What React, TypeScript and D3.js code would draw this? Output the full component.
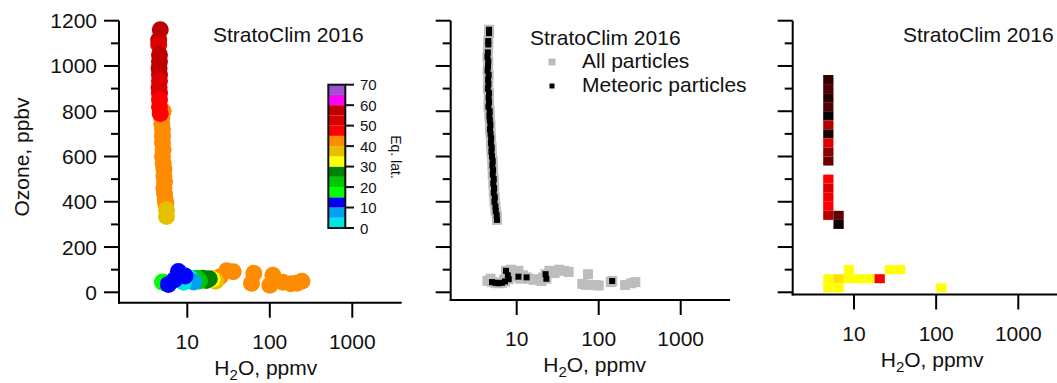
import React from 'react';
import * as d3 from 'd3';

const FONT = '"Liberation Sans", Arial, Helvetica, sans-serif';

// ---------- axis ticks / labels ----------
const ozoneTicks = d3.range(0, 1201, 100);
const ozoneLabelTicks = [0, 200, 400, 600, 800, 1000, 1200];
const h2oTicks = [10, 100, 1000];
const eqLatTicks = [0, 10, 20, 30, 40, 50, 60, 70];
const eqLatBinEdges = [5, 10, 15, 20, 25, 30, 35, 40, 45, 50, 55, 60, 65];
const eqLatColors = [
  '#00e6e6', '#00a2f2', '#0000ff', '#00ff00', '#00c800', '#008000', '#ffff00',
  '#e6c000', '#ff8c00', '#ff0000', '#dc0000', '#be0000', '#ff00ff', '#9b55cc',
];
const titleText = 'StratoClim 2016';
const legendLabels = ['All particles', 'Meteoric particles'];

// ---------- panel 1: [H2O ppmv, O3 ppbv, eq. lat] ----------
const eqLatColumn: [number, number, number][] = [
  [5.1, 800, 42], [4.9, 770, 43], [4.9, 745, 42], [5.0, 720, 41], [5.0, 690, 43],
  [5.0, 660, 42], [5.1, 630, 41], [5.0, 600, 42], [5.1, 570, 43], [5.2, 545, 41],
  [5.2, 515, 42], [5.3, 490, 43], [5.2, 460, 41], [5.3, 435, 42], [5.4, 410, 42],
  [5.5, 390, 41], [5.6, 365, 38], [5.6, 335, 37],
  [4.7, 1160, 57], [4.5, 1115, 57], [4.5, 1095, 52], [4.6, 1050, 57], [4.6, 1020, 57],
  [4.55, 990, 57], [4.6, 960, 56], [4.6, 935, 52], [4.55, 905, 52], [4.6, 880, 51],
  [4.6, 850, 48], [4.6, 820, 47], [4.7, 790, 46],
];
const eqLatLow: [number, number, number][] = [
  [64, 84, 42], [60, 40, 41], [109, 75, 43], [100, 31, 42], [144, 44, 41], [180, 38, 42],
  [213, 40, 43], [245, 49, 42], [25, 69, 41], [30, 95, 42], [36, 91, 43], [22, 60, 42],
  [22, 49, 37], [20, 58, 32],
  [15.5, 62, 27], [18.5, 60, 28], [17, 52, 26],
  [13, 62, 22], [14, 50, 23],
  [5.0, 45, 17], [5.3, 42, 18], [11.5, 52, 17],
  [10.8, 62, 3], [12, 46, 7], [9, 44, 4],
  [5.9, 35, 12], [7.8, 92, 12], [9.4, 72, 13], [7, 55, 11],
];

// ---------- panel 2: [H2O ppmv, O3 ppbv] ----------
const meteoricParticles: [number, number][] = [
  [4.6, 1160], [4.6, 1145], [4.5, 1110], [4.5, 1095],
  [4.45, 1060], [4.4, 1040], [4.5, 1020], [4.47, 1000], [4.42, 980], [4.55, 960],
  [4.48, 940], [4.52, 920], [4.45, 900], [4.6, 880], [4.55, 860], [4.6, 840],
  [4.52, 820], [4.68, 800], [4.65, 780], [4.7, 760], [4.78, 740], [4.72, 720],
  [4.8, 700], [4.88, 680], [4.85, 660], [4.95, 640], [4.92, 620], [5.0, 600],
  [5.1, 580], [5.05, 560], [5.15, 540], [5.1, 520], [5.25, 500], [5.18, 480],
  [5.3, 460], [5.25, 440], [5.4, 420], [5.35, 400], [5.5, 380], [5.55, 360],
  [5.7, 340], [5.75, 320],
  [5.0, 45], [5.5, 42], [6.0, 40], [6.6, 42], [7.2, 48], [8.0, 58], [7.8, 75],
  [7.4, 95], [10.5, 69], [13.2, 66], [22.5, 80], [23, 60], [146, 50],
];
const otherParticles: [number, number][] = [
  [4.4, 50], [4.8, 60], [7.0, 55], [8.5, 100], [9.5, 85], [10.5, 95], [11, 60],
  [12, 75], [14, 60], [16, 55], [18, 58], [20, 50], [21, 65], [25, 95], [29, 85],
  [33, 100], [38, 95], [43, 90], [74, 80], [63, 37], [70, 33], [92, 32], [100, 30],
  [140, 45], [210, 32], [250, 40], [280, 45],
];
const allParticles = [...meteoricParticles, ...otherParticles];

// ---------- panel 3: 2-D bins [log10 H2O lower edge, O3 lower edge, value] ----------
const binCells: [number, number, number][] = [
  [0.625, 920, 0.19], [0.625, 880, 0.31], [0.625, 840, 0.16], [0.625, 800, 0.33],
  [0.625, 760, 0.0], [0.625, 720, 0.71], [0.625, 680, 0.11], [0.625, 640, 0.88],
  [0.625, 600, 0.55], [0.625, 560, 0.43],
  [0.625, 480, 1.0], [0.625, 440, 0.86], [0.625, 400, 0.94], [0.625, 360, 1.0],
  [0.625, 320, 0.69], [0.75, 320, 0.35], [0.75, 280, 0.07],
  [0.625, 40, 2.0], [0.625, 0, 2.0], [0.75, 40, 1.88], [0.75, 0, 2.0],
  [0.875, 80, 2.0], [0.875, 40, 2.0], [1.0, 40, 2.0], [1.125, 40, 2.0],
  [1.25, 40, 1.0], [1.375, 80, 2.0], [1.5, 80, 2.0], [2.0, 0, 2.0],
];
const binLogWidth = 0.125;
const binOzoneHeight = 40;

// ---------- layout ----------
const panels = [
  { x10: 187.3, x1000: 352.3, left: 119, right: 401.7, axisY: 302.7, titleX: 213, titleY: 41.7 },
  { x10: 516.7, x1000: 680.7, left: 450.7, right: 730, axisY: 300, titleX: 530, titleY: 45 },
  { x10: 854, x1000: 1018.3, left: 792.7, right: 1057, axisY: 294.5, titleX: 903, titleY: 41.7 },
];

const y = d3.scaleLinear().domain([0, 1200]).range([292.3, 20.7]);
const eqLatColor = d3.scaleThreshold<number, string>().domain(eqLatBinEdges).range(eqLatColors);
const binColor = d3.scaleLinear<string>().domain([0, 1, 2]).range(['#000000', '#ff0000', '#ffff00']);
const cbScale = d3.scaleLinear().domain([0, 70]).range([228, 84.7]);

const FS = 21;
const TXT = '#111';

function Axes({ p, x }: { p: any; x: d3.ScaleLogarithmic<number, number> }) {
  return (
    <g>
      <g stroke="#000" strokeWidth={2}>
        <line x1={p.left} x2={p.left} y1={y(1200)} y2={p.axisY + 1} />
        <line x1={p.left - 1} x2={p.right} y1={p.axisY} y2={p.axisY} />
        {ozoneTicks.map((t) => (
          <line key={t} x1={p.left - (t % 200 === 0 ? 15 : 8)} x2={p.left} y1={y(t)} y2={y(t)} />
        ))}
        {h2oTicks.map((t) => (
          <line key={t} x1={x(t)} x2={x(t)} y1={p.axisY} y2={p.axisY + 15} />
        ))}
      </g>
      <g fontFamily={FONT} fontSize={FS} fill={TXT} textAnchor="middle">
        {h2oTicks.map((t) => (
          <text key={t} x={x(t)} y={p.axisY + 46}>{t}</text>
        ))}
        <text x={x(100) - 4} y={p.axisY + 72}>
          H<tspan fontSize={15} dy={5}>2</tspan><tspan dy={-5}>O, ppmv</tspan>
        </text>
      </g>
      <text x={p.titleX} y={p.titleY} fontFamily={FONT} fontSize={FS} fill={TXT}>{titleText}</text>
    </g>
  );
}

export default function App() {
  const xs = panels.map((p) => d3.scaleLog().domain([10, 1000]).range([p.x10, p.x1000]));
  const [x1, x2, x3] = xs;

  return (
    <svg width={1057} height={383} style={{ position: 'absolute', left: 0, top: 0, background: '#fff' }}>
      <rect width={1057} height={383} fill="#fff" />

      {/* ---------- Panel 1 ---------- */}
      <g>
        {[...eqLatColumn, ...eqLatLow].map((d, i) => (
          <circle key={i} cx={x1(d[0])} cy={y(d[1])} r={8.5} fill={eqLatColor(d[2])} />
        ))}
        <Axes p={panels[0]} x={x1} />
        <g fontFamily={FONT} fontSize={FS} fill={TXT} textAnchor="end">
          {ozoneLabelTicks.map((t) => (
            <text key={t} x={97} y={y(t) + 7.5}>{t}</text>
          ))}
        </g>
        <text transform="translate(29,157) rotate(-90)" fontFamily={FONT} fontSize={FS} fill={TXT} textAnchor="middle">
          Ozone, ppbv
        </text>
        {/* colour bar */}
        <g>
          {eqLatColors.map((c, i) => (
            <rect key={i} x={328.3} width={17} y={cbScale(i * 5 + 5)} height={cbScale(i * 5) - cbScale(i * 5 + 5)} fill={c} />
          ))}
          <rect x={328.3} y={cbScale(70)} width={17} height={cbScale(0) - cbScale(70)} fill="none" stroke="#111" strokeWidth={2} />
          {eqLatTicks.map((t) => (
            <line key={t} x1={345.3} x2={354} y1={cbScale(t)} y2={cbScale(t)} stroke="#111" strokeWidth={2} />
          ))}
          <g fontFamily={FONT} fontSize={15} fill={TXT}>
            {eqLatTicks.map((t) => (
              <text key={t} x={360} y={cbScale(t) + 5.5}>{t}</text>
            ))}
          </g>
          <text transform="translate(391,157) rotate(90)" fontFamily={FONT} fontSize={14} fill={TXT} textAnchor="middle">
            Eq. lat.
          </text>
        </g>
      </g>

      {/* ---------- Panel 2 ---------- */}
      <g>
        {allParticles.map((d, i) => (
          <rect key={i} x={x2(d[0]) - 5} y={y(d[1]) - 5} width={10} height={10} fill="#bdbdbd" />
        ))}
        {meteoricParticles.map((d, i) => (
          <rect key={i} x={x2(d[0]) - 3} y={y(d[1]) - 3} width={6} height={6} fill="#000" />
        ))}
        <Axes p={panels[1]} x={x2} />
        <rect x={548.5} y={58.5} width={7} height={7} fill="#bdbdbd" />
        <rect x={549.5} y={83.5} width={5} height={5} fill="#000" />
        <g fontFamily={FONT} fontSize={FS} fill={TXT}>
          <text x={582} y={68.3}>{legendLabels[0]}</text>
          <text x={582} y={91.7}>{legendLabels[1]}</text>
        </g>
      </g>

      {/* ---------- Panel 3 ---------- */}
      <g>
        {binCells.map((d, i) => {
          const xa = x3(Math.pow(10, d[0]));
          const xb = x3(Math.pow(10, d[0] + binLogWidth));
          const ya = y(d[1] + binOzoneHeight);
          const yb = y(d[1]);
          return <rect key={i} x={xa} y={ya} width={xb - xa} height={yb - ya} fill={binColor(d[2])} />;
        })}
        <Axes p={panels[2]} x={x3} />
      </g>
    </svg>
  );
}
